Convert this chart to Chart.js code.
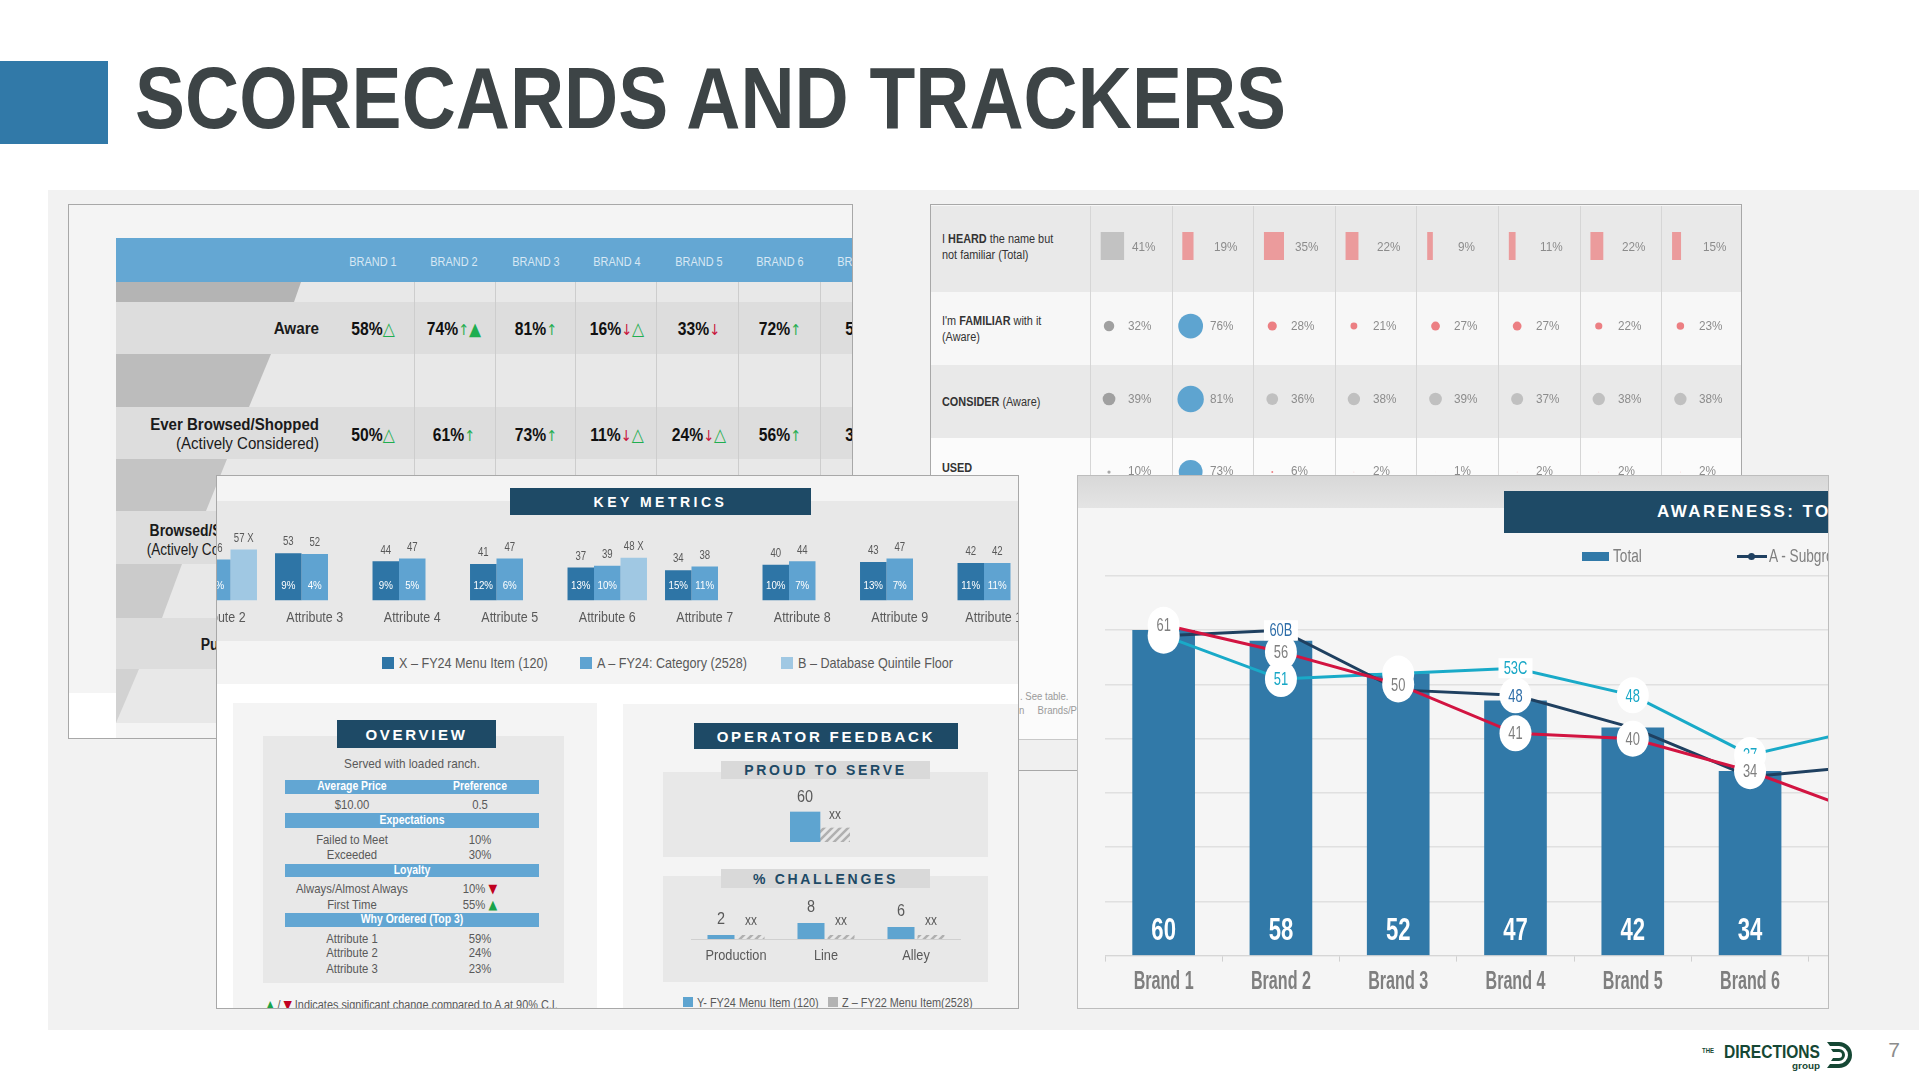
<!DOCTYPE html>
<html lang="en">
<head>
<meta charset="UTF-8">
<title>Scorecards and Trackers</title>
<script src="https://cdn.jsdelivr.net/npm/chart.js@4.4.1/dist/chart.umd.min.js"></script>
<style>
  body { margin:0; width:1919px; height:1079px; overflow:hidden; background:#fff; position:relative;
         font-family:"Liberation Sans",Arial,sans-serif; }
  .abs { position:absolute; }
  .panel { position:absolute; overflow:hidden; box-sizing:border-box; border:1px solid #b0b0b0; }
  .hdr { position:absolute; background:#1e4a66; color:#fff; font-weight:bold; box-sizing:border-box;
         display:flex; align-items:center; justify-content:center; }
  .sub { position:absolute; background:#d9d9d9; color:#1e4a66; font-weight:bold; display:flex;
         align-items:center; justify-content:center; letter-spacing:2.7px; font-size:14px; }
  canvas { position:absolute; }
</style>
</head>
<body>

<div class="abs" style="left:0;top:61px;width:108px;height:83px;background:#3179a8"></div>
<div class="abs" style="left:48px;top:190px;width:1871px;height:840px;background:#f2f2f2"></div>

<!-- scorecard table -->
<div id="pa" class="panel" style="left:68px;top:204px;width:785px;height:535px;background:#f4f4f4;border-color:#a8a8a8"></div>

<!-- funnel table -->
<div id="pb" class="panel" style="left:930px;top:204px;width:812px;height:567px;background:#f7f7f7;border-color:#a8a8a8">
  <canvas id="heardChart" width="653" height="28" style="left:159px;top:27px;width:653px;height:28px"></canvas>
  <canvas id="funnelChart" width="653" height="213" style="left:159px;top:87px;width:653px;height:213px"></canvas>
</div>

<!-- key metrics -->
<div id="pk" class="panel" style="left:216px;top:475px;width:803px;height:534px;background:#fff;border-color:#a8a8a8">
  <div class="abs" style="left:0;top:0;width:803px;height:25px;background:#f4f4f4"></div>
  <div class="abs" style="left:0;top:25px;width:803px;height:140px;background:#e8e8e8"></div>
  <div class="abs" style="left:0;top:165px;width:803px;height:43px;background:#f4f4f4"></div>
  <div class="hdr" style="left:293px;top:12px;width:301px;height:27px;font-size:14px;letter-spacing:3.5px">KEY METRICS</div>
  <canvas id="kmChart" width="975" height="127" style="left:-146px;top:33px;width:975px;height:127px"></canvas>

  <div class="abs" style="left:16px;top:227px;width:364px;height:306px;background:#f4f4f4"></div>
  <div class="abs" style="left:46px;top:260px;width:301px;height:247px;background:#e8e8e8"></div>
  <div class="hdr" style="left:120px;top:244px;width:159px;height:28px;font-size:15px;letter-spacing:2.7px">OVERVIEW</div>

  <div class="abs" style="left:406px;top:228px;width:397px;height:306px;background:#f4f4f4"></div>
  <div class="hdr" style="left:477px;top:247px;width:264px;height:26px;font-size:15px;letter-spacing:2.8px">OPERATOR FEEDBACK</div>
  <div class="abs" style="left:446px;top:296px;width:325px;height:85px;background:#e8e8e8"></div>
  <div class="sub" style="left:504px;top:285px;width:209px;height:18px">PROUD TO SERVE</div>
  <canvas id="proudChart" width="60" height="60" style="left:573px;top:306px;width:60px;height:60px"></canvas>
  <div class="abs" style="left:446px;top:400px;width:325px;height:106px;background:#e8e8e8"></div>
  <div class="sub" style="left:504px;top:393px;width:209px;height:19px">% CHALLENGES</div>
  <canvas id="challengeChart" width="270" height="89" style="left:474px;top:408px;width:270px;height:89px"></canvas>
</div>

<!-- awareness chart -->
<div id="pw" class="panel" style="left:1077px;top:475px;width:752px;height:534px;background:#f5f5f5;border-color:#bdbdbd">
  <div class="abs" style="left:0;top:0;width:752px;height:32px;background:linear-gradient(#d8d8d8,#e4e4e4)"></div>
  <div class="hdr" style="left:426px;top:15px;width:420px;height:42px;font-size:17px;letter-spacing:2.4px;justify-content:flex-start;padding-left:153px">AWARENESS: TOTAL</div>
  <div class="abs" style="left:504px;top:76px;width:27px;height:9px;background:#3179a8"></div>
  <div class="abs" style="left:659px;top:79px;width:30px;height:3px;background:#1f4060"></div>
  <div class="abs" style="left:670px;top:77px;width:7px;height:7px;border-radius:50%;background:#1f4060"></div>
  <canvas id="awareChart" width="821" height="446" style="left:27px;top:80px;width:821px;height:446px"></canvas>
</div>

<svg class="abs" style="left:1700px;top:1038px" width="160" height="34" viewBox="0 0 160 34">
  <g fill="#154734" font-family="Liberation Sans, sans-serif" font-weight="bold">
    <text x="2" y="15" font-size="8" textLength="12" lengthAdjust="spacingAndGlyphs">THE</text>
    <text x="24" y="20" font-size="19" textLength="96" lengthAdjust="spacingAndGlyphs">DIRECTIONS</text>
    <text x="92" y="31" font-size="9" textLength="28" lengthAdjust="spacingAndGlyphs">group</text>
    <path d="M127 4 h12 a13 13 0 0 1 0 26 h-12 l3 -4 h9 a9 9 0 0 0 0 -18 h-9 z"/>
    <path d="M131 11 h8 a6 6 0 0 1 0 12 h-8 l2 -3 h6 a3 3 0 0 0 0 -6 h-6 z"/>
  </g>
</svg>

<script>
const SANS = '"Liberation Sans",Arial,sans-serif';

// awareness chart
const brands = ['Brand 1', 'Brand 2', 'Brand 3', 'Brand 4', 'Brand 5', 'Brand 6', 'Brand 7'];
const totalAware = [60, 58, 52, 47, 42, 34, 30];
const subgroupA = [59, 60, 49, 48, 42, 33, 35];
const subgroupB = [59, 51, 52, 53, 48, 37, 42];
const subgroupC = [61, 56, 50, 41, 40, 34, 26];
const subgroupALabels = ['', '60B', '', '48', '', '', ''];
const subgroupBLabels = [' ', '51', ' ', '53C', '48', '37', ''];
const subgroupCLabels = ['61', '56', '50', '41', '40', '34', ''];

// key metrics
const attributes = ['Attribute 1', 'Attribute 2', 'Attribute 3', 'Attribute 4', 'Attribute 5',
                    'Attribute 6', 'Attribute 7', 'Attribute 8', 'Attribute 9', 'Attribute 10'];
const menuItemX = [52, 50, 53, 44, 41, 37, 34, 40, 43, 42];
const categoryA = [50, 46, 52, 47, 47, 39, 38, 44, 47, 42];
const quintileB = [null, 57, null, null, null, 48, null, null, null, null];
const quintileSig = ['', 'X', '', '', '', 'X', '', '', '', ''];
const menuItemXPct = ['9%', '8%', '9%', '9%', '12%', '13%', '15%', '10%', '13%', '11%'];
const categoryAPct = ['5%', '6%', '4%', '5%', '6%', '10%', '11%', '7%', '7%', '11%'];

// operator feedback
const proudCats = ['Proud to serve'];
const proudY = [60];
const proudZ = [28];
const challengeCats = ['Production', 'Line', 'Alley'];
const challengeY = [2, 8, 6];
const challengeZ = [2, 2, 2];

// scorecard table
const scoreBrands = ['BRAND 1', 'BRAND 2', 'BRAND 3', 'BRAND 4', 'BRAND 5', 'BRAND 6', 'BRAND 7'];
const awareScores = ['58%', '74%', '81%', '16%', '33%', '72%', '55%'];
const awareFlags = ['t', 'uT', 'u', 'dt', 'd', 'u', ''];
const browsedScores = ['50%', '61%', '73%', '11%', '24%', '56%', '37%'];
const browsedFlags = ['t', 'u', 'u', 'dt', 'dt', 'u', ''];

// funnel table
const heardPct = [41, 19, 35, 22, 9, 11, 22, 15];
const familiarPct = [32, 76, 28, 21, 27, 27, 22, 23];
const considerPct = [39, 81, 36, 38, 39, 37, 38, 38];
const usedPct = [10, 73, 6, 2, 1, 2, 2, 2];

Chart.defaults.font.family = SANS;
Chart.defaults.animation = false;
Chart.defaults.plugins.legend.display = false;
Chart.defaults.plugins.tooltip.enabled = false;

// text is squeezed horizontally to look like the narrow face of the slide
function put(parent, html, x, y, css, anchor, sx) {
    const d = document.createElement('div');
    d.className = 'abs';
    d.innerHTML = html;
    d.style.left = x + 'px';
    d.style.top = y + 'px';
    d.style.whiteSpace = 'nowrap';
    d.style.lineHeight = '1.15';
    const tx = anchor === 'c' ? '-50%' : anchor === 'r' ? '-100%' : '0';
    d.style.transformOrigin = anchor === 'c' ? 'center' : anchor === 'r' ? 'right' : 'left';
    d.style.transform = 'translate(' + tx + ',-50%) scaleX(' + (sx || 0.87) + ')';
    Object.assign(d.style, css || {});
    parent.appendChild(d);
    return d;
}
function box(parent, x, y, w, h, bg, css) {
    const d = document.createElement('div');
    d.className = 'abs';
    Object.assign(d.style, { left: x + 'px', top: y + 'px', width: w + 'px', height: h + 'px', background: bg }, css || {});
    parent.appendChild(d);
    return d;
}
function squeeze(ctx, text, x, y, sx) {
    ctx.save();
    ctx.translate(x, y);
    ctx.scale(sx, 1);
    ctx.fillText(text, 0, 0);
    ctx.restore();
}
// draws the category labels narrow; the library ticks stay for layout but are transparent
function narrowTicks(offset, font, color, sx) {
    return {
        id: 'narrowTicks',
        afterDraw(chart) {
            const s = chart.scales.x, ctx = chart.ctx;
            ctx.save();
            ctx.font = font;
            ctx.fillStyle = color;
            ctx.textAlign = 'center';
            ctx.textBaseline = 'middle';
            chart.data.labels.forEach(function (lab, i) { squeeze(ctx, lab, s.getPixelForTick(i), s.top + offset, sx); });
            ctx.restore();
        }
    };
}

// title
put(document.body, 'SCORECARDS AND TRACKERS', 135, 97.5, { fontSize: '88px', fontWeight: 'bold', color: '#3d4446' }, 'l', 0.852);
put(document.body, '7', 1894, 1050, { fontSize: '21px', color: '#8c8c8c' }, 'c', 1);

// ---- scorecard table ----
const pa = document.getElementById('pa');
box(pa, 47, 33, 738, 44, '#64a7d3');
const rowsA = [[77, 97, 'f'], [97, 149, 'd'], [149, 202, 'f'], [202, 254, 'd'], [254, 306, 'f'],
               [306, 359, 'd'], [359, 413, 'f'], [413, 464, 'd'], [464, 518, 'f']];
const funnelEdge = [[232, 225], [202, 180], [158, 137], [113, 93], [70, 47]];
const funnelGray = ['#b4b4b4', '#bcbcbc', '#c4c4c4', '#cbcbcb', '#d2d2d2'];
let fi = 0;
rowsA.forEach(function (r) {
    box(pa, 47, r[0], 738, r[1] - r[0], r[2] === 'f' ? '#e8e8e8' : '#dddddd');
    if (r[2] === 'f') {
        const w = funnelEdge[fi][0] - 47, wb = funnelEdge[fi][1] - 47;
        box(pa, 47, r[0], w, r[1] - r[0], funnelGray[fi], { clipPath: 'polygon(0 0,' + w + 'px 0,' + wb + 'px 100%,0 100%)' });
        fi++;
    }
});
box(pa, 0, 488, 47, 47, '#ffffff');
[345, 426, 506, 587, 669, 751].forEach(function (x) { box(pa, x, 77, 1, 441, '#cdcdcd'); });
scoreBrands.forEach(function (b, i) {
    put(pa, b, 304 + 81.4 * i, 57, { fontSize: '13px', color: '#d8e8f4' }, 'c', 0.84);
});
function flagHtml(f) {
    let s = '';
    for (const c of f) {
        if (c === 't') s += '<span style="color:#1fae50;font-family:DejaVu Sans;font-weight:normal">△</span>';
        if (c === 'T') s += '<span style="color:#1fae50;font-family:DejaVu Sans;font-weight:normal">▲</span>';
        if (c === 'u') s += '<span style="color:#1fae50;font-family:DejaVu Sans;font-weight:normal;font-size:15px">↑</span>';
        if (c === 'd') s += '<span style="color:#c8143c;font-family:DejaVu Sans;font-weight:normal;font-size:15px">↓</span>';
    }
    return s;
}
awareScores.forEach(function (v, i) {
    put(pa, v + flagHtml(awareFlags[i]), 304 + 81.4 * i, 124, { fontSize: '18px', fontWeight: 'bold', color: '#111' }, 'c');
});
browsedScores.forEach(function (v, i) {
    put(pa, v + flagHtml(browsedFlags[i]), 304 + 81.4 * i, 230, { fontSize: '18px', fontWeight: 'bold', color: '#111' }, 'c');
});
const lab = { fontSize: '16px', fontWeight: 'bold', color: '#1a1a1a' };
const lab2 = { fontSize: '16px', color: '#1a1a1a' };
put(pa, 'Aware', 250, 124, lab, 'r', 0.95);
put(pa, 'Ever Browsed/Shopped', 250, 220, lab, 'r', 0.94);
put(pa, '(Actively Considered)', 250, 239, lab2, 'r', 0.94);
put(pa, 'Browsed/Shopped Online', 250, 326, lab, 'r', 0.87);
put(pa, '(Actively Considered Online)', 250, 345, lab2, 'r', 0.85);
put(pa, 'Purchased Online', 250, 440, lab, 'r', 0.87);

// ---- funnel table ----
const pb = document.getElementById('pb');
const rowBg = [[1, 86, '#e9e9e9'], [87, 73, '#f7f7f7'], [160, 73, '#e9e9e9'], [233, 301, '#fbfbfb']];
rowBg.forEach(function (r) { pb.insertBefore(box(pb, 0, r[0], 812, r[1], r[2]), pb.firstChild); });
pb.insertBefore(box(pb, 0, 534, 812, 40, '#f0f0f0', { borderTop: '1px solid #c8c8c8' }), pb.firstChild);
for (let i = 0; i < 8; i++) pb.insertBefore(box(pb, 159 + 81.6 * i, 1, 1, 533, '#d6d6d6'), pb.children[5]);
const rl = { fontSize: '12.5px', color: '#333', lineHeight: '1.3' };
put(pb, 'I <b>HEARD</b> the name but<br>not familiar (Total)', 11, 42, rl);
put(pb, 'I\'m <b>FAMILIAR</b> with it<br>(Aware)', 11, 124, rl);
put(pb, '<b>CONSIDER</b> (Aware)', 11, 197, rl);
put(pb, '<b>USED</b>', 11, 263, rl);
put(pb, '. See table.', 89, 491, { fontSize: '11px', color: '#9a9a9a' });
put(pb, 'n&nbsp;&nbsp;&nbsp;&nbsp;&nbsp;Brands/P', 88, 505, { fontSize: '11px', color: '#9a9a9a' });
const pctCss = { fontSize: '13.5px', color: '#8c8c8c' };
heardPct.forEach(function (v, i) { put(pb, v + '%', 159 + 81.6 * i + 42, 42, pctCss); });
[familiarPct, considerPct, usedPct].forEach(function (row, r) {
    row.forEach(function (v, i) { put(pb, v + '%', 159 + 81.6 * i + 38, [121, 194, 266][r], pctCss); });
});

new Chart(document.getElementById('heardChart'), {
    type: 'bar',
    data: {
        labels: ['heard'],
        datasets: heardPct.map(function (v, i) {
            return { data: [[i + 0.135, i + 0.135 + v * 0.0068]], backgroundColor: i === 0 ? '#c2c2c2' : '#eb9b9c',
                     grouped: false, categoryPercentage: 1, barPercentage: 1 };
        })
    },
    options: {
        indexAxis: 'y', responsive: false,
        layout: { autoPadding: false },
        scales: { x: { type: 'linear', display: false, min: 0, max: 8 }, y: { display: false } }
    }
});

const pink = '#ec7f83', blue = '#5ea4d0', dark = '#a0a0a0', light = '#c0c0c0';
const funnelColors = [
    [dark, blue, pink, pink, pink, pink, pink, pink],
    [dark, blue, light, light, light, light, light, light],
    ['#a8a8a8', blue, pink, pink, pink, pink, pink, pink]
];
new Chart(document.getElementById('funnelChart'), {
    type: 'bubble',
    data: {
        datasets: [familiarPct, considerPct, usedPct].map(function (row, r) {
            return {
                data: row.map(function (v, i) { return { x: i + 0.233, y: r + 1, r: v * 0.163 }; }),
                backgroundColor: funnelColors[r], borderWidth: 0, clip: false
            };
        })
    },
    options: {
        responsive: false,
        layout: { autoPadding: false },
        scales: { x: { type: 'linear', display: false, min: 0, max: 8 },
                  y: { type: 'linear', display: false, min: 0.534, max: 3.452, reverse: true } }
    }
});

// ---- key metrics ----
const pk = document.getElementById('pk');
const legCss = { fontSize: '14.5px', color: '#595959' };
box(pk, 165, 181, 12, 12, '#2e75a6'); put(pk, 'X – FY24 Menu Item (120)', 182, 187, legCss);
box(pk, 363, 181, 12, 12, '#5fa3d1'); put(pk, 'A – FY24: Category (2528)', 380, 187, legCss);
box(pk, 564, 181, 12, 12, '#a0c8e3'); put(pk, 'B – Database Quintile Floor', 581, 187, legCss);

const kmLabels = {
    id: 'kmLabels',
    afterDatasetsDraw(chart) {
        const ctx = chart.ctx;
        const base = chart.scales.y.getPixelForValue(0);
        ctx.save();
        ctx.textAlign = 'center';
        ctx.textBaseline = 'middle';
        [menuItemX, categoryA, quintileB].forEach(function (vals, di) {
            chart.getDatasetMeta(di).data.forEach(function (bar, i) {
                if (vals[i] === null) return;
                ctx.fillStyle = '#595959';
                ctx.font = '12px ' + SANS;
                const sig = di === 2 && quintileSig[i] ? ' ' + quintileSig[i] : '';
                squeeze(ctx, vals[i] + sig, bar.x, bar.y - 11, 0.8);
                if (di < 2) {
                    ctx.fillStyle = '#ffffff';
                    ctx.font = '11.5px ' + SANS;
                    squeeze(ctx, di === 0 ? menuItemXPct[i] : categoryAPct[i], bar.x, base - 15, 0.85);
                }
            });
        });
        ctx.restore();
    }
};
new Chart(document.getElementById('kmChart'), {
    type: 'bar',
    data: {
        labels: attributes,
        datasets: [
            { label: 'X – FY24 Menu Item (120)', data: menuItemX, backgroundColor: '#2e75a6' },
            { label: 'A – FY24: Category (2528)', data: categoryA, backgroundColor: '#5fa3d1' },
            { label: 'B – Database Quintile Floor', data: quintileB, backgroundColor: '#a0c8e3' }
        ]
    },
    options: {
        responsive: false,
        layout: { padding: { top: 20 } },
        datasets: { bar: { categoryPercentage: 0.815, barPercentage: 1 } },
        scales: {
            x: { grid: { display: false, drawTicks: false }, border: { display: false },
                 ticks: { padding: 9, color: 'rgba(0,0,0,0)', font: { size: 14.5 } } },
            y: { display: false, min: 0, max: 80 }
        }
    },
    plugins: [kmLabels, narrowTicks(17.7, '14.5px ' + SANS, '#595959', 0.86)]
});

// overview
const ovText = { fontSize: '13px', color: '#595959' };
const ovHead = { fontSize: '12px', color: '#fff', fontWeight: 'bold' };
put(pk, 'Served with loaded ranch.', 195, 288, { fontSize: '13.5px', color: '#595959' }, 'c');
box(pk, 68, 304, 254, 14, '#62a6d3');
put(pk, 'Average Price', 135, 311, ovHead, 'c'); put(pk, 'Preference', 263, 311, ovHead, 'c');
put(pk, '$10.00', 135, 329, ovText, 'c'); put(pk, '0.5', 263, 329, ovText, 'c');
box(pk, 68, 337, 254, 15, '#62a6d3'); put(pk, 'Expectations', 195, 345, ovHead, 'c');
put(pk, 'Failed to Meet', 135, 364, ovText, 'c'); put(pk, '10%', 263, 364, ovText, 'c');
put(pk, 'Exceeded', 135, 379, ovText, 'c'); put(pk, '30%', 263, 379, ovText, 'c');
box(pk, 68, 388, 254, 13, '#62a6d3'); put(pk, 'Loyalty', 195, 395, ovHead, 'c');
put(pk, 'Always/Almost Always', 135, 413, ovText, 'c');
put(pk, '10% <span style="color:#c00020;font-family:DejaVu Sans">▼</span>', 263, 413, ovText, 'c');
put(pk, 'First Time', 135, 429, ovText, 'c');
put(pk, '55% <span style="color:#1aa34a;font-family:DejaVu Sans">▲</span>', 263, 429, ovText, 'c');
box(pk, 68, 437, 254, 14, '#62a6d3'); put(pk, 'Why Ordered (Top 3)', 195, 444, ovHead, 'c');
put(pk, 'Attribute 1', 135, 463, ovText, 'c'); put(pk, '59%', 263, 463, ovText, 'c');
put(pk, 'Attribute 2', 135, 477, ovText, 'c'); put(pk, '24%', 263, 477, ovText, 'c');
put(pk, 'Attribute 3', 135, 493, ovText, 'c'); put(pk, '23%', 263, 493, ovText, 'c');
put(pk, '<span style="color:#1aa34a;font-family:DejaVu Sans">▲</span> / <span style="color:#c00020;font-family:DejaVu Sans">▼</span> Indicates significant change compared to A at 90% C.I.', 49, 529, { fontSize: '12.5px', color: '#595959' });

// operator feedback
box(pk, 466, 521, 10, 10, '#5ea4d0'); put(pk, 'Y- FY24 Menu Item (120)', 480, 527, { fontSize: '12.5px', color: '#595959' });
box(pk, 611, 521, 10, 10, '#b3b3b3'); put(pk, 'Z – FY22 Menu Item(2528)', 625, 527, { fontSize: '12.5px', color: '#595959' });

function hatch() {
    const c = document.createElement('canvas');
    c.width = 8; c.height = 8;
    const g = c.getContext('2d');
    g.strokeStyle = '#b0b0b0';
    g.lineWidth = 2.5;
    g.beginPath();
    g.moveTo(0, 8); g.lineTo(8, 0);
    g.moveTo(-2, 2); g.lineTo(2, -2);
    g.moveTo(6, 10); g.lineTo(10, 6);
    g.stroke();
    return g.createPattern(c, 'repeat');
}
function topLabels(yFont, zFont, gap) {
    return {
        id: 'topLabels',
        afterDatasetsDraw(chart) {
            const ctx = chart.ctx;
            ctx.save();
            ctx.textAlign = 'center';
            ctx.textBaseline = 'middle';
            ctx.fillStyle = '#595959';
            chart.getDatasetMeta(0).data.forEach(function (bar, i) {
                ctx.font = yFont + 'px ' + SANS;
                squeeze(ctx, String(chart.data.datasets[0].data[i]), bar.x, bar.y - gap, 0.85);
            });
            chart.getDatasetMeta(1).data.forEach(function (bar) {
                ctx.font = zFont + 'px ' + SANS;
                squeeze(ctx, 'xx', bar.x, bar.y - gap + 2, 0.85);
            });
            ctx.restore();
        }
    };
}
new Chart(document.getElementById('proudChart'), {
    type: 'bar',
    data: {
        labels: proudCats,
        datasets: [
            { label: 'Y- FY24 Menu Item (120)', data: proudY, backgroundColor: '#5ea4d0' },
            { label: 'Z – FY22 Menu Item(2528)', data: proudZ, backgroundColor: hatch() }
        ]
    },
    options: {
        responsive: false,
        layout: { padding: { top: 10 } },
        datasets: { bar: { categoryPercentage: 1, barPercentage: 1 } },
        scales: { x: { display: false }, y: { display: false, min: 0, max: 100 } }
    },
    plugins: [topLabels(17, 14, 15)]
});
new Chart(document.getElementById('challengeChart'), {
    type: 'bar',
    data: {
        labels: challengeCats,
        datasets: [
            { label: 'Y- FY24 Menu Item (120)', data: challengeY, backgroundColor: '#5ea4d0' },
            { label: 'Z – FY22 Menu Item(2528)', data: challengeZ, backgroundColor: hatch() }
        ]
    },
    options: {
        responsive: false,
        layout: { padding: { top: 15 } },
        datasets: { bar: { categoryPercentage: 0.667, barPercentage: 0.9 } },
        scales: {
            x: { grid: { display: false, drawTicks: false }, border: { color: '#d0d0d0' },
                 ticks: { padding: 8, color: 'rgba(0,0,0,0)', font: { size: 15 } } },
            y: { display: false, min: 0, max: 20 }
        }
    },
    plugins: [topLabels(17, 14, 16), narrowTicks(17, '15px ' + SANS, '#595959', 0.85)]
});

// ---- awareness chart ----
const pw = document.getElementById('pw');
put(pw, 'Total', 535, 80, { fontSize: '19px', color: '#7f7f7f' }, 'l', 0.72);
put(pw, 'A - Subgroup', 691, 80, { fontSize: '19px', color: '#7f7f7f' }, 'l', 0.72);

const awareLabels = {
    id: 'awareLabels',
    afterDatasetsDraw(chart) {
        const ctx = chart.ctx;
        const base = chart.scales.y.getPixelForValue(0);
        ctx.save();
        ctx.textAlign = 'center';
        ctx.textBaseline = 'middle';
        ctx.fillStyle = '#ffffff';
        ctx.font = 'bold 32px ' + SANS;
        chart.getDatasetMeta(3).data.forEach(function (bar, i) {
            squeeze(ctx, String(totalAware[i]), bar.x, base - 24, 0.69);
        });
        [[1, subgroupBLabels, '#17a7c6'], [2, subgroupCLabels, '#7f7f7f'], [0, subgroupALabels, '#2f6ea8']].forEach(function (s) {
            chart.getDatasetMeta(s[0]).data.forEach(function (pt, i) {
                const t = s[1][i];
                if (!t) return;
                ctx.fillStyle = '#ffffff';
                ctx.beginPath();
                if (/[A-Z]/.test(t)) ctx.rect(pt.x - 17, pt.y - 10, 34, 20);
                else ctx.ellipse(pt.x, pt.y, 16, 18, 0, 0, Math.PI * 2);
                ctx.fill();
                ctx.fillStyle = s[2];
                ctx.font = '19px ' + SANS;
                squeeze(ctx, t.trim(), pt.x, pt.y + 1, 0.68);
            });
        });
        ctx.restore();
    }
};
new Chart(document.getElementById('awareChart'), {
    type: 'bar',
    data: {
        labels: brands,
        datasets: [
            { type: 'line', label: 'A - Subgroup', data: subgroupA, borderColor: '#1f4060', borderWidth: 3, pointRadius: 0, order: 2 },
            { type: 'line', label: 'B - Subgroup', data: subgroupB, borderColor: '#19aac8', borderWidth: 3, pointRadius: 0, order: 3 },
            { type: 'line', label: 'C - Subgroup', data: subgroupC, borderColor: '#d21441', borderWidth: 3, pointRadius: 0, order: 1 },
            { type: 'bar', label: 'Total', data: totalAware, backgroundColor: '#3179a8', barThickness: 62, order: 5 }
        ]
    },
    options: {
        responsive: false,
        layout: { padding: { top: 20 } },
        scales: {
            x: { grid: { offset: true, drawOnChartArea: false, drawTicks: true, tickLength: 6, color: '#d0d0d0' },
                 border: { color: '#d6d6d6' },
                 ticks: { padding: 7, color: 'rgba(0,0,0,0)', font: { size: 22, weight: 'bold' } } },
            y: { min: 0, max: 70, ticks: { display: false, stepSize: 10 },
                 grid: { color: '#e0e0e0', lineWidth: 1.5, drawTicks: false }, border: { display: false } }
        }
    },
    plugins: [awareLabels, narrowTicks(26.2, 'bold 25px ' + SANS, '#7f7f7f', 0.645)]
});
</script>
</body>
</html>
